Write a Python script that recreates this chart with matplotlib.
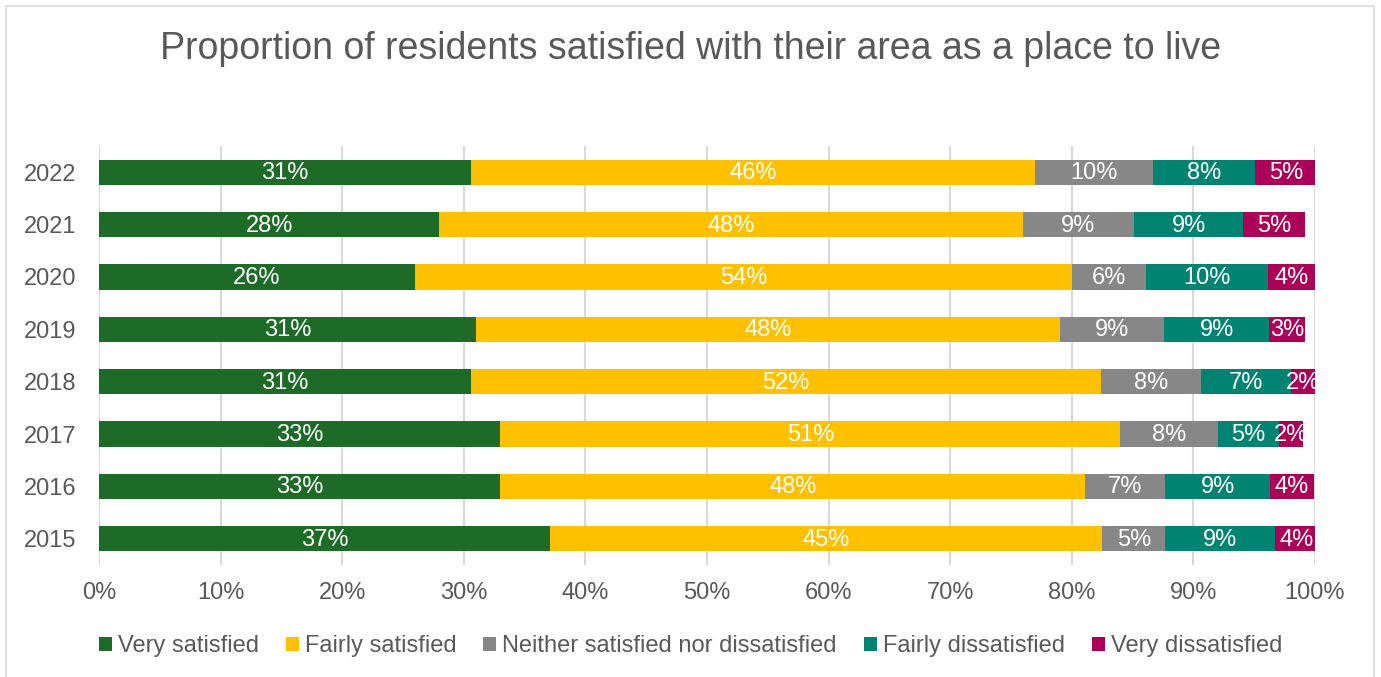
import matplotlib.pyplot as plt
import numpy as np
from matplotlib.patches import Rectangle

plt.rcParams['font.family'] = ['Liberation Sans', 'DejaVu Sans']

# data (percent of residents)
years = ['2022', '2021', '2020', '2019', '2018', '2017', '2016', '2015']
very_satisfied = [30.6, 28.0, 26.0, 31.0, 30.6, 33.0, 33.0, 37.1]
fairly_satisfied = [46.4, 48.0, 54.0, 48.0, 51.8, 51.0, 48.1, 45.4]
neither = [9.7, 9.1, 6.1, 8.6, 8.2, 8.0, 6.6, 5.2]
fairly_dissatisfied = [8.4, 9.0, 10.0, 8.6, 7.4, 5.0, 8.6, 9.0]
very_dissatisfied = [5.0, 5.1, 4.0, 3.0, 2.1, 2.0, 3.6, 3.6]

series = [
    ('Very satisfied', very_satisfied, '#1E6B27'),
    ('Fairly satisfied', fairly_satisfied, '#FFC000'),
    ('Neither satisfied nor dissatisfied', neither, '#878787'),
    ('Fairly dissatisfied', fairly_dissatisfied, '#008370'),
    ('Very dissatisfied', very_dissatisfied, '#AA0057'),
]

text_col = '#595959'

fig = plt.figure(figsize=(13.81, 6.77), dpi=100)
ax = fig.add_axes([99 / 1381, 112 / 677, 1216 / 1381, 419 / 677])

# chart border
fig.patches.append(Rectangle((6 / 1381, -0.05), 1368 / 1381, 1.05 - 6 / 677,
                             transform=fig.transFigure, fill=False,
                             edgecolor='#D9D9D9', linewidth=1.2))

y = np.arange(len(years))
left = np.zeros(len(years))
for name, vals, col in series:
    vals = np.array(vals)
    ax.barh(y, vals, left=left, height=0.48, color=col, label=name,
            linewidth=0, zorder=2)
    for yi, l, v in zip(y, left, vals):
        ax.text(l + v / 2, yi + 0.02, f'{int(v + 0.5)}%', ha='center', va='center',
                color='white', fontsize=17, zorder=3)
    left = left + vals

ax.set_ylim(len(years) - 0.5, -0.5)
ax.set_xlim(0, 100)
ax.set_yticks(y)
ax.set_yticklabels(years)
ax.set_xticks(np.arange(0, 101, 10))
ax.set_xticklabels([f'{t}%' for t in range(0, 101, 10)])
ax.tick_params(axis='both', length=0, labelsize=17, labelcolor=text_col)
ax.tick_params(axis='x', pad=12)
ax.tick_params(axis='y', pad=16)
ax.grid(axis='x', color='#D9D9D9', linewidth=1.5, zorder=0)
ax.set_axisbelow(True)
for s in ax.spines.values():
    s.set_visible(False)

fig.text(0.5, 1 - 49 / 677, 'Proportion of residents satisfied with their area as a place to live',
         ha='center', va='center', fontsize=27, color=text_col)

leg = fig.legend(loc='center', bbox_to_anchor=(0.5, 1 - 646 / 677), ncol=5,
                 frameon=False, fontsize=17, handlelength=0.55, handleheight=0.55,
                 handletextpad=0.25, columnspacing=1.15, borderaxespad=0)
for t in leg.get_texts():
    t.set_color(text_col)

fig.savefig('out.png', dpi=100)
